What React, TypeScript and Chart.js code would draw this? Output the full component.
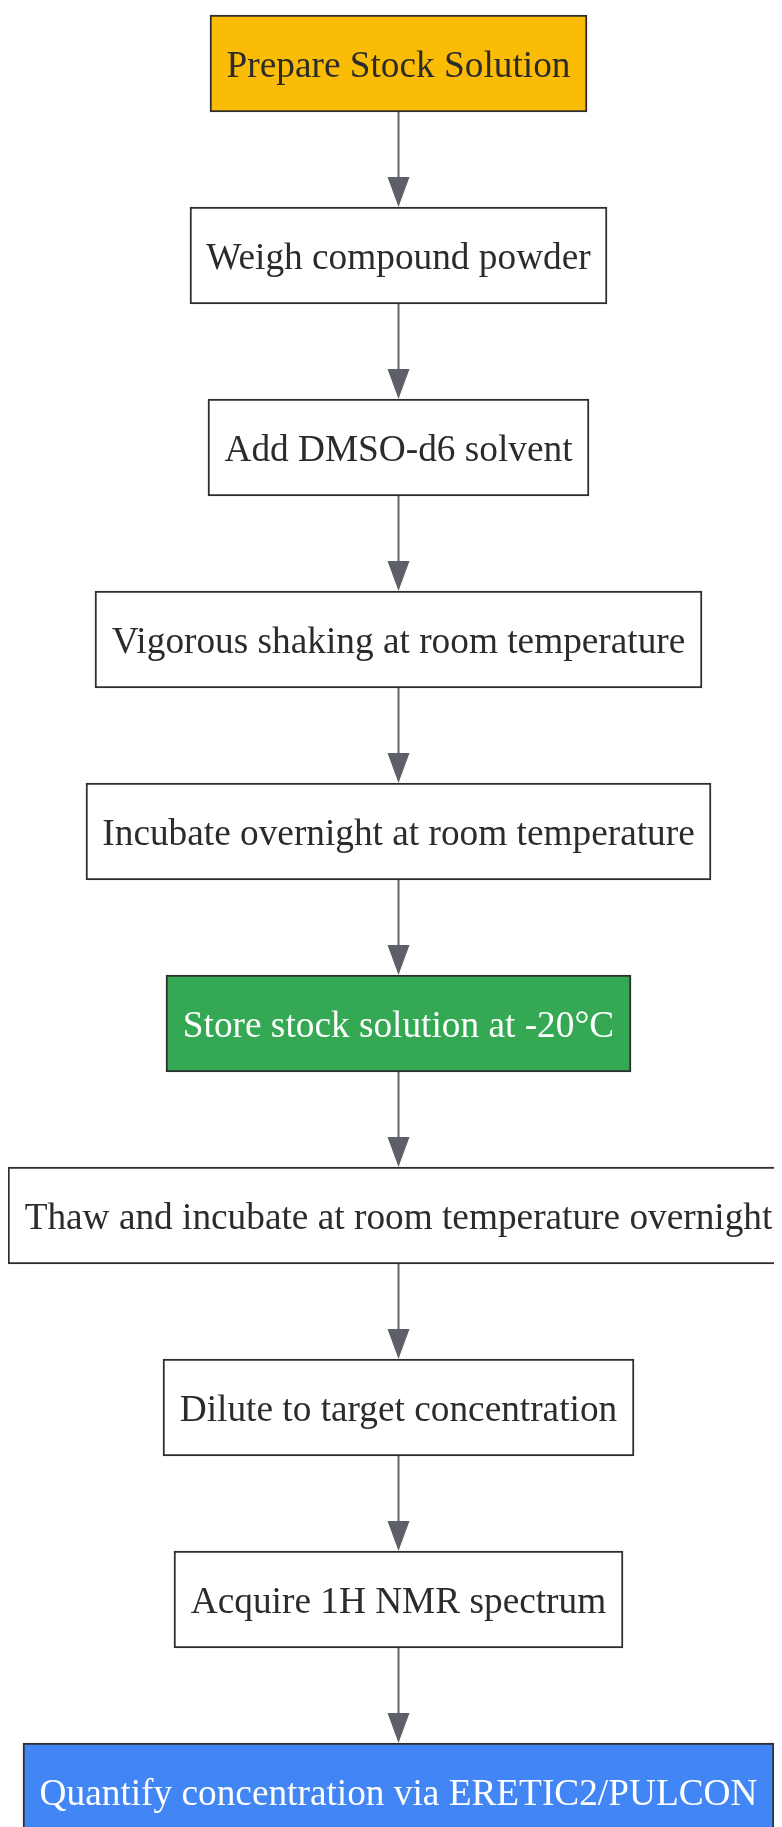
import React, { useEffect, useRef } from "react";
import { Chart, registerables } from "chart.js";

Chart.register(...registerables);

const steps: string[] = [
  "Prepare Stock Solution",
  "Weigh compound powder",
  "Add DMSO-d6 solvent",
  "Vigorous shaking at room temperature",
  "Incubate overnight at room temperature",
  "Store stock solution at -20°C",
  "Thaw and incubate at room temperature overnight",
  "Dilute to target concentration",
  "Acquire 1H NMR spectrum",
  "Quantify concentration via ERETIC2/PULCON",
];

const fills: string[] = [
  "#fbbc05",
  "#ffffff",
  "#ffffff",
  "#ffffff",
  "#ffffff",
  "#34a853",
  "#ffffff",
  "#ffffff",
  "#ffffff",
  "#4285f4",
];

const textColors: string[] = [
  "#2b2b2b",
  "#2b2b2b",
  "#2b2b2b",
  "#2b2b2b",
  "#2b2b2b",
  "#ffffff",
  "#2b2b2b",
  "#2b2b2b",
  "#2b2b2b",
  "#ffffff",
];

const FONT = '37.3px "Liberation Serif", "Times New Roman", serif';
const CANVAS_W = 781;
const CANVAS_H = 1850;
const PAD_X = 16.5;
const STEP_PX = 192;
const FIRST_CENTER = 55.5;
const BOX_H = 97;

export default function App() {
  const ref = useRef<HTMLCanvasElement | null>(null);

  useEffect(() => {
    const canvas = ref.current;
    if (!canvas) return;

    const mctx = document.createElement("canvas").getContext("2d")!;
    mctx.font = FONT;
    const halfWidths = steps.map(
      (s) => Math.round((mctx.measureText(s).width + 2 * PAD_X) / 2 - 0.5) + 0.5
    );

    const flowPlugin = {
      id: "flow",
      afterDatasetsDraw(chart: any) {
        const ctx = chart.ctx as CanvasRenderingContext2D;
        const meta = chart.getDatasetMeta(0);
        const els = meta.data;
        const cx = chart.scales.x.getPixelForValue(0);
        ctx.save();
        // arrows
        for (let i = 0; i < els.length - 1; i++) {
          const a = els[i];
          const b = els[i + 1];
          const y0 = a.y + a.height / 2;
          const tip = b.y - b.height / 2;
          const headH = 30;
          const headW = 11;
          ctx.strokeStyle = "#62656b";
          ctx.lineWidth = 2;
          ctx.beginPath();
          ctx.moveTo(cx, y0);
          ctx.lineTo(cx, tip - headH + 2);
          ctx.stroke();
          ctx.fillStyle = "#5d6066";
          ctx.beginPath();
          ctx.moveTo(cx - headW, tip - headH);
          ctx.lineTo(cx + headW, tip - headH);
          ctx.lineTo(cx, tip);
          ctx.closePath();
          ctx.fill();
        }
        // labels
        ctx.font = FONT;
        ctx.textAlign = "center";
        ctx.textBaseline = "alphabetic";
        els.forEach((el: any, i: number) => {
          ctx.fillStyle = textColors[i];
          ctx.fillText(steps[i], cx, el.y + 13);
        });
        ctx.restore();
      },
    };

    const chart = new Chart(canvas, {
      type: "bar",
      data: {
        datasets: [
          {
            data: steps.map((_, i) => ({ x: [-halfWidths[i], halfWidths[i]], y: i })) as any,
            backgroundColor: fills,
            borderColor: "#2e2e2e",
            borderWidth: 2,
            borderSkipped: false,
            barThickness: BOX_H,
          },
        ],
      },
      options: {
        indexAxis: "y",
        animation: false,
        responsive: false,
        maintainAspectRatio: false,
        devicePixelRatio: 1,
        layout: { padding: 0 },
        plugins: {
          legend: { display: false },
          tooltip: { enabled: false },
        },
        events: [],
        scales: {
          x: {
            type: "linear",
            display: false,
            offset: false,
            min: -CANVAS_W / 2,
            max: CANVAS_W / 2,
          },
          y: {
            type: "linear",
            display: false,
            offset: false,
            reverse: true,
            min: -FIRST_CENTER / STEP_PX,
            max: (CANVAS_H - FIRST_CENTER) / STEP_PX,
          },
        },
      },
      plugins: [flowPlugin],
    } as any);

    return () => chart.destroy();
  }, []);

  return (
    <div style={{ width: 774, height: 1819, overflow: "hidden", position: "relative" }}>
      <canvas
        ref={ref}
        width={CANVAS_W}
        height={CANVAS_H}
        style={{ display: "block", width: CANVAS_W, height: CANVAS_H }}
      />
    </div>
  );
}
